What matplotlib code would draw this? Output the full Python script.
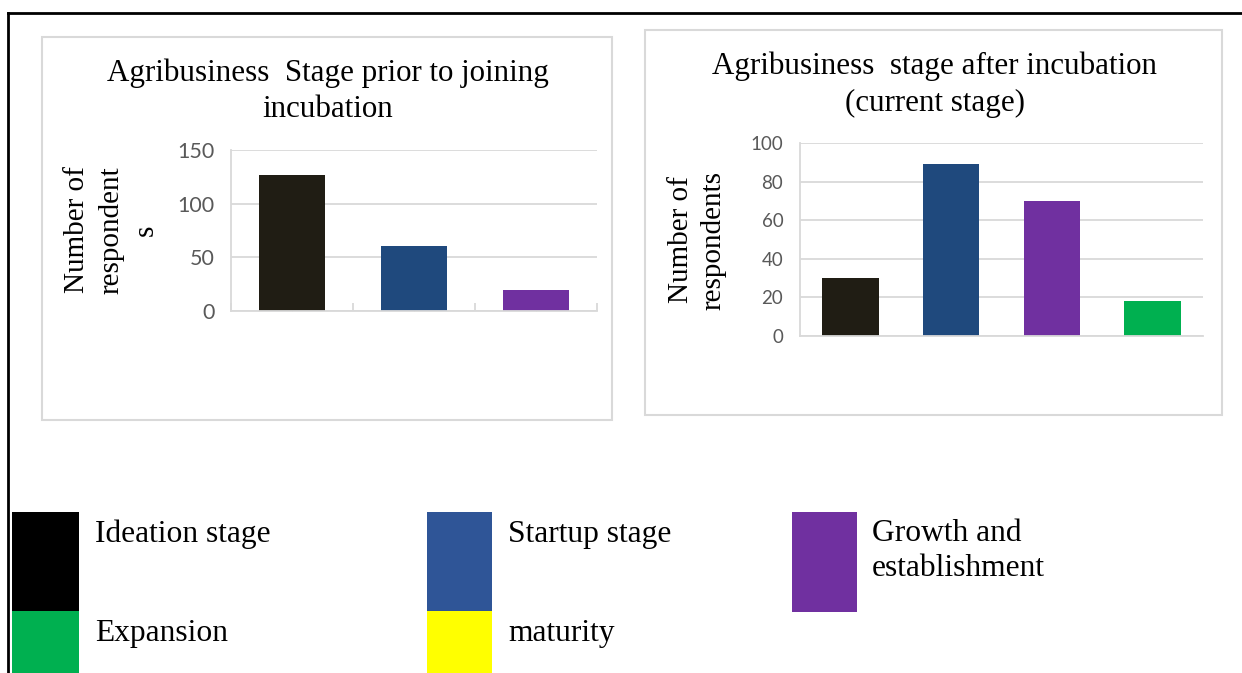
import matplotlib
matplotlib.use('Agg')
from matplotlib import pyplot as plt
from matplotlib.patches import Rectangle
from matplotlib.lines import Line2D

# data
prior_stages = ['Ideation stage', 'Startup stage', 'Growth and establishment']
prior_counts = [127, 61, 20]
after_stages = ['Ideation stage', 'Startup stage', 'Growth and establishment', 'Expansion']
after_counts = [30, 89, 70, 18]
prior_ticks = [0, 50, 100, 150]
after_ticks = [0, 20, 40, 60, 80, 100]

legend_labels = ['Ideation stage', 'Startup stage', 'Growth and\nestablishment', 'Expansion', 'maturity']
legend_colors = ['#000000', '#2f5597', '#7030a0', '#00b050', '#ffff00']
bar_colors = ['#201d14', '#1f497d', '#7030a0', '#00b050']

W, H = 1242, 673
fig = plt.figure(figsize=(W / 100, H / 100), dpi=100)

SERIF = 'Liberation Serif'
GRID = '#d9d9d9'


def fx(x):
    return x / W


def fy(y):
    return 1 - y / H


def add_ax(x0, x1, y_top, y_bottom):
    return fig.add_axes([fx(x0), fy(y_bottom), fx(x1) - fx(x0), (y_bottom - y_top) / H])


def box(x0, y0, x1, y1):
    fig.patches.append(Rectangle((fx(x0), fy(y1)), fx(x1) - fx(x0), (y1 - y0) / H,
                                 transform=fig.transFigure, fill=False,
                                 edgecolor=GRID, lw=1.5))


def style_ax(ax, ticks, fsize):
    ax.set_ylim(ticks[0], ticks[-1])
    ax.set_yticks(ticks)
    ax.grid(axis='y', color=GRID, lw=1.3)
    ax.set_axisbelow(True)
    for s in ['top', 'right']:
        ax.spines[s].set_visible(False)
    for s in ['left', 'bottom']:
        ax.spines[s].set_color(GRID)
        ax.spines[s].set_linewidth(1.3)
    ax.tick_params(axis='y', length=0, pad=12, labelsize=fsize, labelcolor='#595959')
    for t in ax.get_yticklabels():
        t.set_fontfamily('Lato')


# outer frame
fig.lines.append(Line2D([fx(8), fx(W)], [fy(13), fy(13)], transform=fig.transFigure, color='black', lw=2))
fig.lines.append(Line2D([fx(8), fx(8)], [fy(13), fy(H)], transform=fig.transFigure, color='black', lw=2))

# left chart
box(42, 37, 612, 420)
ax1 = add_ax(231, 597, 150, 311)
x1 = range(len(prior_counts))
ax1.bar(x1, prior_counts, width=0.54, color=bar_colors[:3])
ax1.set_xlim(-0.5, len(prior_counts) - 0.5)
style_ax(ax1, prior_ticks, 15.5)
ax1.set_xticks(list(x1))
ax1.set_xticks([i - 0.5 for i in range(len(prior_counts) + 1)], minor=True)
ax1.tick_params(axis='x', which='major', direction='in', length=3, color=GRID, labelbottom=False)
ax1.tick_params(axis='x', which='minor', direction='in', length=6, color=GRID, width=1.3)
fig.text(fx(328), fy(117), 'Agribusiness  Stage prior to joining\nincubation', ha='center',
         va='baseline', family=SERIF, fontsize=22.3, linespacing=1.34, multialignment='center')
fig.text(fx(111), fy(230), 'Number of\nrespondent\ns', rotation=90, ha='center', va='center',
         family=SERIF, fontsize=21, linespacing=1.42, multialignment='center')

# right chart
box(645, 30, 1222, 415)
ax2 = add_ax(800, 1203, 143.3, 335.7)
x2 = range(len(after_counts))
ax2.bar(x2, after_counts, width=0.56, color=bar_colors)
ax2.set_xlim(-0.5, len(after_counts) - 0.5)
style_ax(ax2, after_ticks, 13.5)
ax2.set_xticks([])
fig.text(fx(935), fy(111), 'Agribusiness  stage after incubation\n(current stage)', ha='center',
         va='baseline', family=SERIF, fontsize=22.3, linespacing=1.38, multialignment='center')
fig.text(fx(697), fy(240), 'Number of\nrespondents', rotation=90, ha='center', va='center',
         family=SERIF, fontsize=21, linespacing=1.35, multialignment='center')

# legend
legend_boxes = [(12, 79, 512, 611), (427, 492, 512, 611), (792, 857, 512, 612),
                (12, 79, 611, H), (427, 492, 611, H)]
legend_text_pos = [(95, 542), (508, 542), (872, 576), (95, 641), (508, 641)]
for lab, col, (bx0, bx1, by0, by1), (tx, ty) in zip(legend_labels, legend_colors, legend_boxes, legend_text_pos):
    fig.patches.append(Rectangle((fx(bx0), fy(by1)), fx(bx1) - fx(bx0), (by1 - by0) / H,
                                 transform=fig.transFigure, facecolor=col, edgecolor='none'))
    fig.text(fx(tx), fy(ty), lab, ha='left', va='baseline', family=SERIF, fontsize=22.7,
             linespacing=1.27)

fig.savefig('out.png', dpi=100)
